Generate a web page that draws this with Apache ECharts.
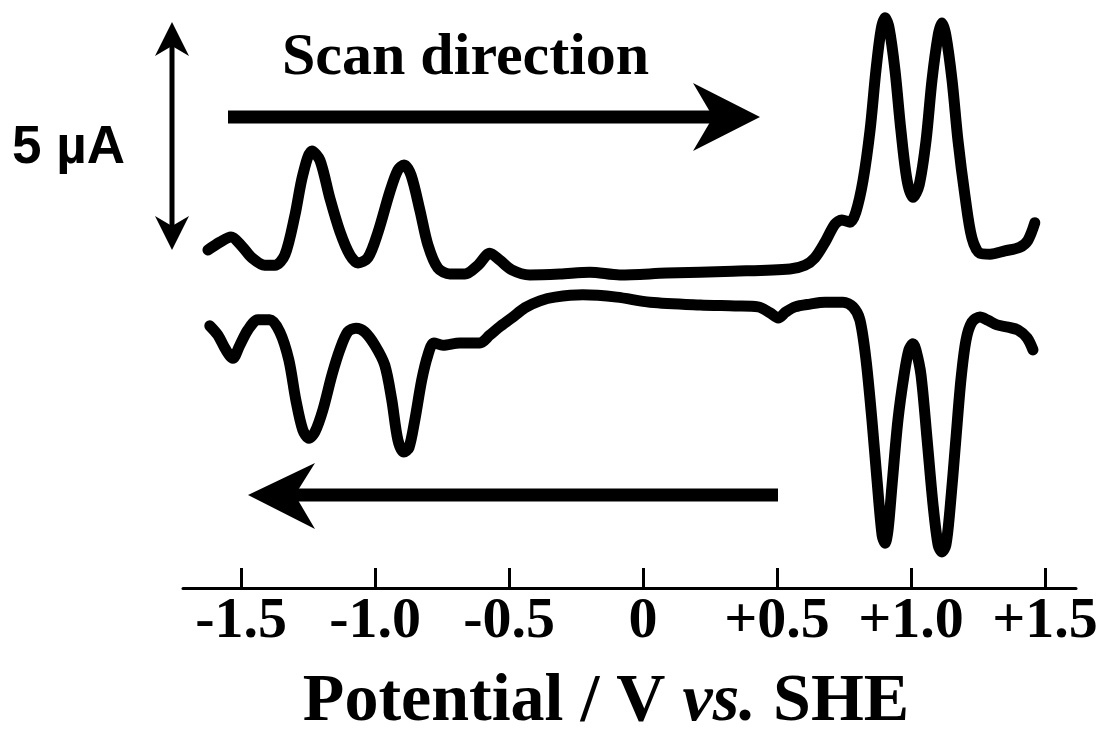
<!DOCTYPE html>
<html>
<head>
<meta charset="utf-8">
<script src="https://cdn.jsdelivr.net/npm/echarts@6/dist/echarts.min.js"></script>
<style>html,body{margin:0;padding:0;background:#fff}#c{width:1096px;height:731px}</style>
</head>
<body>
<div id="c"></div>
<script>
// Potential (V vs. SHE) and current (µA)
var forwardE = [-1.624,-1.579,-1.538,-1.497,-1.460,-1.412,-1.374,-1.337,-1.299,-1.270,-1.236,-1.206,-1.169,-1.131,-1.094,-1.064,-1.027,-0.989,-0.945,-0.915,-0.892,-0.866,-0.833,-0.803,-0.766,-0.721,-0.665,-0.616,-0.572,-0.535,-0.490,-0.423,-0.311,-0.199,-0.087,0.088,0.335,0.548,0.604,0.641,0.679,0.716,0.742,0.772,0.794,0.821,0.847,0.869,0.888,0.903,0.918,0.940,0.962,0.985,1.007,1.030,1.056,1.078,1.101,1.115,1.130,1.153,1.175,1.201,1.227,1.257,1.295,1.350,1.406,1.436,1.462];
var forwardI = [0.81,0.98,1.09,0.89,0.64,0.48,0.48,0.70,1.57,2.43,2.95,2.75,1.93,1.20,0.70,0.53,0.64,1.20,2.07,2.54,2.65,2.43,1.67,0.92,0.42,0.29,0.29,0.48,0.74,0.59,0.38,0.27,0.29,0.33,0.27,0.31,0.35,0.40,0.48,0.64,0.98,1.37,1.46,1.41,1.63,2.32,3.40,4.70,5.57,5.83,5.61,4.70,3.40,2.32,1.95,2.21,3.18,4.48,5.45,5.72,5.45,4.48,3.18,1.99,1.07,0.74,0.72,0.79,0.87,1.02,1.40];
var reverseE = [1.455,1.433,1.399,1.362,1.321,1.287,1.257,1.227,1.205,1.186,1.167,1.145,1.130,1.115,1.101,1.082,1.060,1.037,1.018,1.007,0.992,0.974,0.951,0.929,0.914,0.903,0.892,0.873,0.854,0.832,0.809,0.783,0.746,0.679,0.623,0.567,0.533,0.504,0.474,0.429,0.343,0.213,0.026,-0.098,-0.225,-0.329,-0.385,-0.441,-0.490,-0.535,-0.572,-0.609,-0.684,-0.747,-0.781,-0.803,-0.826,-0.852,-0.874,-0.893,-0.915,-0.938,-0.964,-1.001,-1.039,-1.072,-1.102,-1.132,-1.161,-1.195,-1.225,-1.247,-1.270,-1.296,-1.322,-1.356,-1.393,-1.438,-1.475,-1.505,-1.531,-1.557,-1.587,-1.617];
var reverseI = [-1.35,-1.09,-0.92,-0.86,-0.81,-0.71,-0.64,-0.75,-1.14,-2.00,-3.30,-4.81,-5.57,-5.72,-5.57,-4.70,-3.30,-1.89,-1.35,-1.22,-1.35,-1.89,-2.87,-4.27,-5.25,-5.53,-5.36,-4.17,-2.87,-1.57,-0.70,-0.42,-0.32,-0.32,-0.36,-0.42,-0.53,-0.66,-0.55,-0.42,-0.40,-0.38,-0.32,-0.21,-0.16,-0.21,-0.29,-0.44,-0.66,-0.85,-1.03,-1.20,-1.20,-1.25,-1.20,-1.46,-2.00,-2.87,-3.47,-3.56,-3.30,-2.43,-1.68,-1.25,-0.96,-0.88,-0.96,-1.35,-1.89,-2.65,-3.13,-3.26,-3.08,-2.43,-1.57,-0.96,-0.70,-0.70,-0.92,-1.25,-1.53,-1.35,-1.03,-0.83];
var tickValues = [-1.5,-1.0,-0.5,0,0.5,1.0,1.5];
var tickLabels = ['-1.5','-1.0','-0.5','0','+0.5','+1.0','+1.5'];
var axisTitle = ['Potential / V ', 'vs.', ' SHE'];
var scanLabel = 'Scan direction';
var scaleLabel = '5 \u00B5A';

function pairs(xs, ys){ var o=[]; for(var i=0;i<xs.length;i++) o.push([xs[i], ys[i]]); return o; }

var chart = echarts.init(document.getElementById('c'), null, {renderer:'canvas'});
var serif = '"Liberation Serif","Times New Roman",serif';
var sans = '"Liberation Sans",Arial,sans-serif';
var lineStyle = {color:'#000', width:11, cap:'round', join:'round'};

chart.setOption({
  animation:false,
  backgroundColor:'#fff',
  grid:{left:183, right:20, top:10, bottom:143, containLabel:false, outerBoundsMode:'none'},
  xAxis:{
    type:'value', min:-1.717, max:1.6155,
    axisLine:{show:true, onZero:false, lineStyle:{color:'#000', width:3}},
    axisTick:{show:true, inside:true, length:20, customValues:tickValues, lineStyle:{color:'#000', width:3}},
    axisLabel:{show:true, customValues:tickValues, margin:5, hideOverlap:false,
      formatter:function(v){ var i=tickValues.indexOf(v); return i>=0?tickLabels[i]:''; },
      color:'#000', fontFamily:serif, fontWeight:'bold', fontSize:58},
    splitLine:{show:false},
    name:'{n|'+axisTitle[0]+'}{i|'+axisTitle[1]+'}{n|'+axisTitle[2]+'}',
    nameLocation:'middle', nameGap:80,
    nameTextStyle:{padding:[0,47,0,0],
      rich:{n:{fontFamily:serif, fontWeight:'bold', fontSize:68, color:'#000'},
            i:{fontFamily:serif, fontWeight:'bold', fontStyle:'italic', fontSize:68, color:'#000'}}}
  },
  yAxis:{type:'value', min:-6.5, max:6.0, show:false, splitLine:{show:false}},
  series:[
    {type:'line', name:'forward', data:pairs(forwardE, forwardI), showSymbol:false, symbol:'none', smooth:0.3, lineStyle:lineStyle},
    {type:'line', name:'reverse', data:pairs(reverseE, reverseI), showSymbol:false, symbol:'none', smooth:0.3, lineStyle:lineStyle}
  ],
  graphic:[
    {type:'text', left:12, top:122, style:{text:scaleLabel, font:'bold 53px '+sans, fill:'#000'}},
    {type:'text', x:282, y:58, style:{text:scanLabel, font:'bold 60px '+serif, fill:'#000', verticalAlign:'middle'}},
    // scan direction arrow (forward)
    {type:'rect', shape:{x:228, y:110.5, width:487, height:13}, style:{fill:'#000'}},
    {type:'polygon', shape:{points:[[760,117],[693,83],[713,117],[693,151]]}, style:{fill:'#000'}},
    // reverse arrow
    {type:'rect', shape:{x:293, y:488.5, width:485, height:13}, style:{fill:'#000'}},
    {type:'polygon', shape:{points:[[248,495],[315,463],[295,495],[315,529]]}, style:{fill:'#000'}},
    // 5 µA scale bar (double arrow)
    {type:'rect', shape:{x:169.5, y:40, width:5, height:195}, style:{fill:'#000'}},
    {type:'polygon', shape:{points:[[172,22],[155,56],[172,46],[189,56]]}, style:{fill:'#000'}},
    {type:'polygon', shape:{points:[[172,250],[155,216],[172,226],[189,216]]}, style:{fill:'#000'}}
  ]
});
</script>
</body>
</html>
